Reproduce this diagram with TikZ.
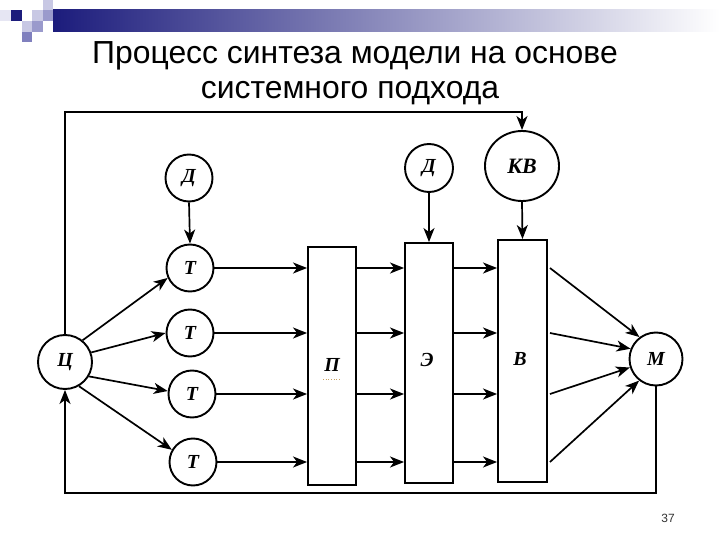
\documentclass[tikz,border=0pt]{standalone}
\usepackage{fontspec}
\setmainfont{Liberation Sans}
\newfontfamily\lserif{Liberation Serif}
\usetikzlibrary{arrows.meta,shapes.geometric,calc}
\definecolor{hdrnavy}{HTML}{1C1C7C}
\definecolor{hdrmid}{HTML}{9A9ACC}
\definecolor{hdrlight}{HTML}{C8C8E4}
\definecolor{hdrpale}{HTML}{E6E6F3}
\definecolor{hdrpurple}{HTML}{8080BE}
\definecolor{spellc}{HTML}{C8A060}
\tikzset{
  lbl/.style={font=\lserif\bfseries\itshape\fontsize{20}{20}\selectfont},
  circnode/.style={circle,draw,line width=1.9bp,minimum size=47bp,inner sep=0pt,lbl},
  blockbox/.style={rectangle,draw,line width=1.9bp,minimum width=48bp,inner sep=0pt},
  arr/.style={line width=1.7bp,-{Stealth[length=14bp,width=11bp,inset=4bp]}},
  titletext/.style={anchor=base,inner sep=0pt,font=\fontsize{32}{32}\selectfont}
}
\begin{document}
\begin{tikzpicture}[x=1bp,y=-1bp]
\useasboundingbox (0,0) rectangle (720,540);
\fill[white] (0,0) rectangle (720,540);
% header decoration
\shade[left color=hdrnavy,right color=white] (53,10) rectangle (720,32);
\fill[hdrpale] (0,10) rectangle (11,21);
\fill[hdrnavy] (11,10) rectangle (22,21);
\fill[hdrlight] (32,10) rectangle (43,21);
\fill[hdrlight] (43,0) rectangle (53,10);
\fill[hdrmid] (43,10) rectangle (53,21);
\fill[hdrlight] (22,21) rectangle (32,32);
\fill[hdrmid] (32,21) rectangle (43,32);
\fill[hdrpurple] (22,32) rectangle (32,42);
% title
\node[titletext] (title1) at (355,64) {Процесс синтеза модели на основе};
\node[titletext] (title2) at (350,99) {системного подхода};
% nodes
\node[circnode,minimum size=54bp] (C) at (65,362) {Ц};
\node[circnode] (D1) at (189,178) {Д};
\node[circnode] (T1) at (190,268) {Т};
\node[circnode] (T2) at (190,333) {Т};
\node[circnode] (T3) at (192,394) {Т};
\node[circnode] (T4) at (193,462) {Т};
\node[blockbox,minimum height=238bp] (P) at (332,366) {};
\node[lbl] (Plab) at (332,365) {П};
\node[blockbox,minimum height=240bp] (E) at (429,363) {};
\node[lbl] (Elab) at (427,360) {Э};
\node[blockbox,minimum width=49bp,minimum height=242bp] (B) at (522.5,361) {};
\node[lbl] (Blab) at (520,359) {В};
\node[circnode,minimum size=48bp] (D2) at (429,168) {Д};
\node[ellipse,draw,line width=1.9bp,minimum width=74bp,minimum height=70bp,inner sep=0pt,
  font=\lserif\bfseries\itshape\fontsize{22}{22}\selectfont] (KV) at (522,166) {КВ};
\node[circnode,minimum size=53bp] (M) at (656,359) {М};
\node[font=\fontsize{12}{12}\selectfont,text=black!80] (pnum) at (668,518) {37};
% spell-check underline under П
\draw[spellc,line width=0.7bp,dotted] (323,379) -- (341,379);
% Ц -> Т
\draw[arr] (C.51) -- (T1.204);
\draw[arr] (C.20) -- (T2.180);
\draw[arr] (C.-31) -- (T3.173);
\draw[arr] (C.-60) -- (T4.150);
% Д -> Т1
\draw[arr] (D1.south) -- (T1.north);
% Т -> П -> Э -> В
\foreach \t in {T1,T2,T3,T4}{
  \draw[arr] (\t.east) -- (P.west |- \t.east);
  \draw[arr] (P.east |- \t.east) -- (E.west |- \t.east);
  \draw[arr] (E.east |- \t.east) -- (B.west |- \t.east);
}
% Д, КВ -> blocks
\draw[arr] (D2.south) -- (E.north);
\draw[arr] (KV.south) -- (B.north);
% В -> М
\draw[arr] ([xshift=2bp]B.east |- T1.east) -- (M.127);
\draw[arr] ([xshift=2bp]B.east |- T2.east) -- (M.158);
\draw[arr] ([xshift=2bp]B.east |- T3.east) -- (M.198);
\draw[arr] ([xshift=2bp]B.east |- T4.east) -- (M.232);
% feedback loops
\coordinate (topy) at (0,112);
\coordinate (boty) at (0,493);
\draw[arr] (C.north) -- (C.north |- topy) -- (KV.north |- topy) -- (KV.north);
\draw[arr] (M.south) -- (M.south |- boty) -- (C.south |- boty) -- (C.south);
\end{tikzpicture}
\end{document}
